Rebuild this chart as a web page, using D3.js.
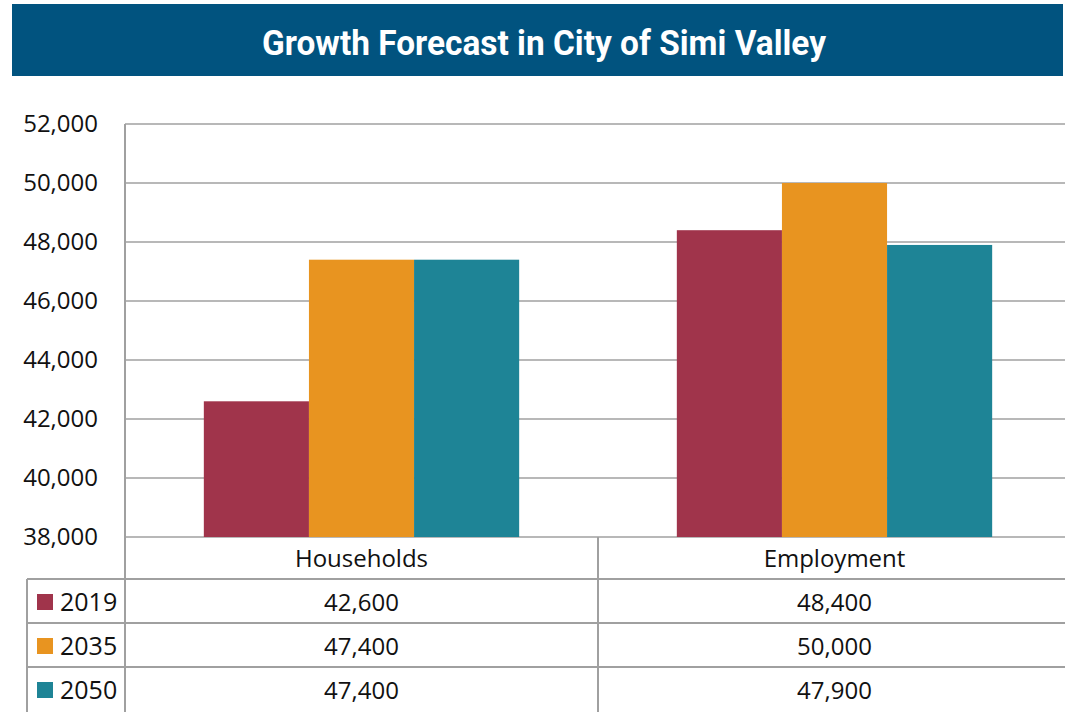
<!DOCTYPE html>
<html>
<head>
<meta charset="utf-8">
<script src="https://cdn.jsdelivr.net/npm/d3@7"></script>
<style>
  body { margin: 0; background: #fff; }
  text { font-family: "Open Sans", "Noto Sans", sans-serif; }
</style>
</head>
<body>
<div id="chart-area"></div>
<script>
var categories = ["Households", "Employment"];
var years = ["2019", "2035", "2050"];
var values2019 = [42600, 48400];
var values2035 = [47400, 50000];
var values2050 = [47400, 47900];
var yTicks = [38000, 40000, 42000, 44000, 46000, 48000, 50000, 52000];
var colors = ["#a0344b", "#e89420", "#1e8496"];

var series = [values2019, values2035, values2050];

var svg = d3.select("#chart-area").append("svg")
    .attr("width", 1065)
    .attr("height", 712);

// title banner
svg.append("rect")
    .attr("x", 12).attr("y", 4)
    .attr("width", 1051).attr("height", 72)
    .attr("fill", "#01537f");
svg.append("text")
    .attr("x", 262).attr("y", 55)
    .attr("textLength", 564)
    .attr("lengthAdjust", "spacingAndGlyphs")
    .attr("fill", "#fff")
    .style("font-family", "Roboto, sans-serif")
    .style("font-weight", "bold")
    .style("font-size", "35px")
    .text("Growth Forecast in City of Simi Valley");

var plotL = 125, plotR = 1071, plotT = 124, plotB = 537;
var gridColor = "#a0a0a0";

var y = d3.scaleLinear()
    .domain([38000, 52000])
    .range([plotB, plotT]);

var x = d3.scaleBand()
    .domain(categories)
    .range([plotL, plotR]);

var xs = d3.scaleBand()
    .domain(years)
    .range([0, x.bandwidth()])
    .paddingOuter(0.75)
    .paddingInner(0);

// gridlines
svg.selectAll("line.grid")
    .data(yTicks)
    .enter().append("line")
    .attr("class", "grid")
    .attr("x1", plotL).attr("x2", plotR)
    .attr("y1", (d) => y(d)).attr("y2", (d) => y(d))
    .attr("stroke", gridColor)
    .attr("stroke-width", 1.5);

// y tick labels
svg.selectAll("text.ytick")
    .data(yTicks)
    .enter().append("text")
    .attr("class", "ytick")
    .attr("x", 98)
    .attr("y", (d) => y(d) + 8)
    .attr("text-anchor", "end")
    .style("font-size", "24px")
    .attr("fill", "#111")
    .text((d) => d3.format(",")(d));

// bars
years.forEach((yr, i) => {
  svg.selectAll("rect.bar" + yr)
    .data(categories)
    .enter().append("rect")
    .attr("class", "bar" + yr)
    .attr("x", (c) => x(c) + xs(yr))
    .attr("y", (c, j) => y(series[i][j]))
    .attr("width", xs.bandwidth())
    .attr("height", (c, j) => plotB - y(series[i][j]))
    .attr("fill", colors[i]);
});

// data table
var rowH = 44;
var headerBottom = 579;
var tableLeft = 27;

// left axis line
svg.append("line")
    .attr("x1", plotL).attr("x2", plotL)
    .attr("y1", plotT).attr("y2", 712)
    .attr("stroke", gridColor).attr("stroke-width", 2);

// header row bottom line and row lines
var rowLines = [headerBottom, headerBottom + rowH, headerBottom + 2 * rowH];
svg.selectAll("line.row")
    .data(rowLines)
    .enter().append("line")
    .attr("class", "row")
    .attr("x1", tableLeft).attr("x2", plotR)
    .attr("y1", (d) => d).attr("y2", (d) => d)
    .attr("stroke", gridColor).attr("stroke-width", 2);

// left table border
svg.append("line")
    .attr("x1", tableLeft).attr("x2", tableLeft)
    .attr("y1", headerBottom).attr("y2", 712)
    .attr("stroke", gridColor).attr("stroke-width", 2);

// category dividers
svg.selectAll("line.div")
    .data(categories.slice(1))
    .enter().append("line")
    .attr("class", "div")
    .attr("x1", (c) => x(c)).attr("x2", (c) => x(c))
    .attr("y1", plotB).attr("y2", 712)
    .attr("stroke", gridColor).attr("stroke-width", 2);

// header labels
svg.selectAll("text.cat")
    .data(categories)
    .enter().append("text")
    .attr("class", "cat")
    .attr("x", (c) => x(c) + x.bandwidth() / 2)
    .attr("y", plotB + 30)
    .attr("text-anchor", "middle")
    .style("font-size", "24px")
    .attr("fill", "#111")
    .text((c) => c);

// legend rows
years.forEach((yr, i) => {
  var ry = headerBottom + i * rowH;
  svg.append("rect")
    .attr("x", 37).attr("y", ry + 15)
    .attr("width", 16).attr("height", 16)
    .attr("fill", colors[i]);
  svg.append("text")
    .attr("x", 60).attr("y", ry + 32)
    .style("font-size", "25px")
    .attr("fill", "#111")
    .text(yr);
  svg.selectAll("text.val" + yr)
    .data(categories)
    .enter().append("text")
    .attr("class", "val" + yr)
    .attr("x", (c) => x(c) + x.bandwidth() / 2)
    .attr("y", ry + 32)
    .attr("text-anchor", "middle")
    .style("font-size", "24px")
    .attr("fill", "#111")
    .text((c, j) => d3.format(",")(series[i][j]));
});
</script>
</body>
</html>
